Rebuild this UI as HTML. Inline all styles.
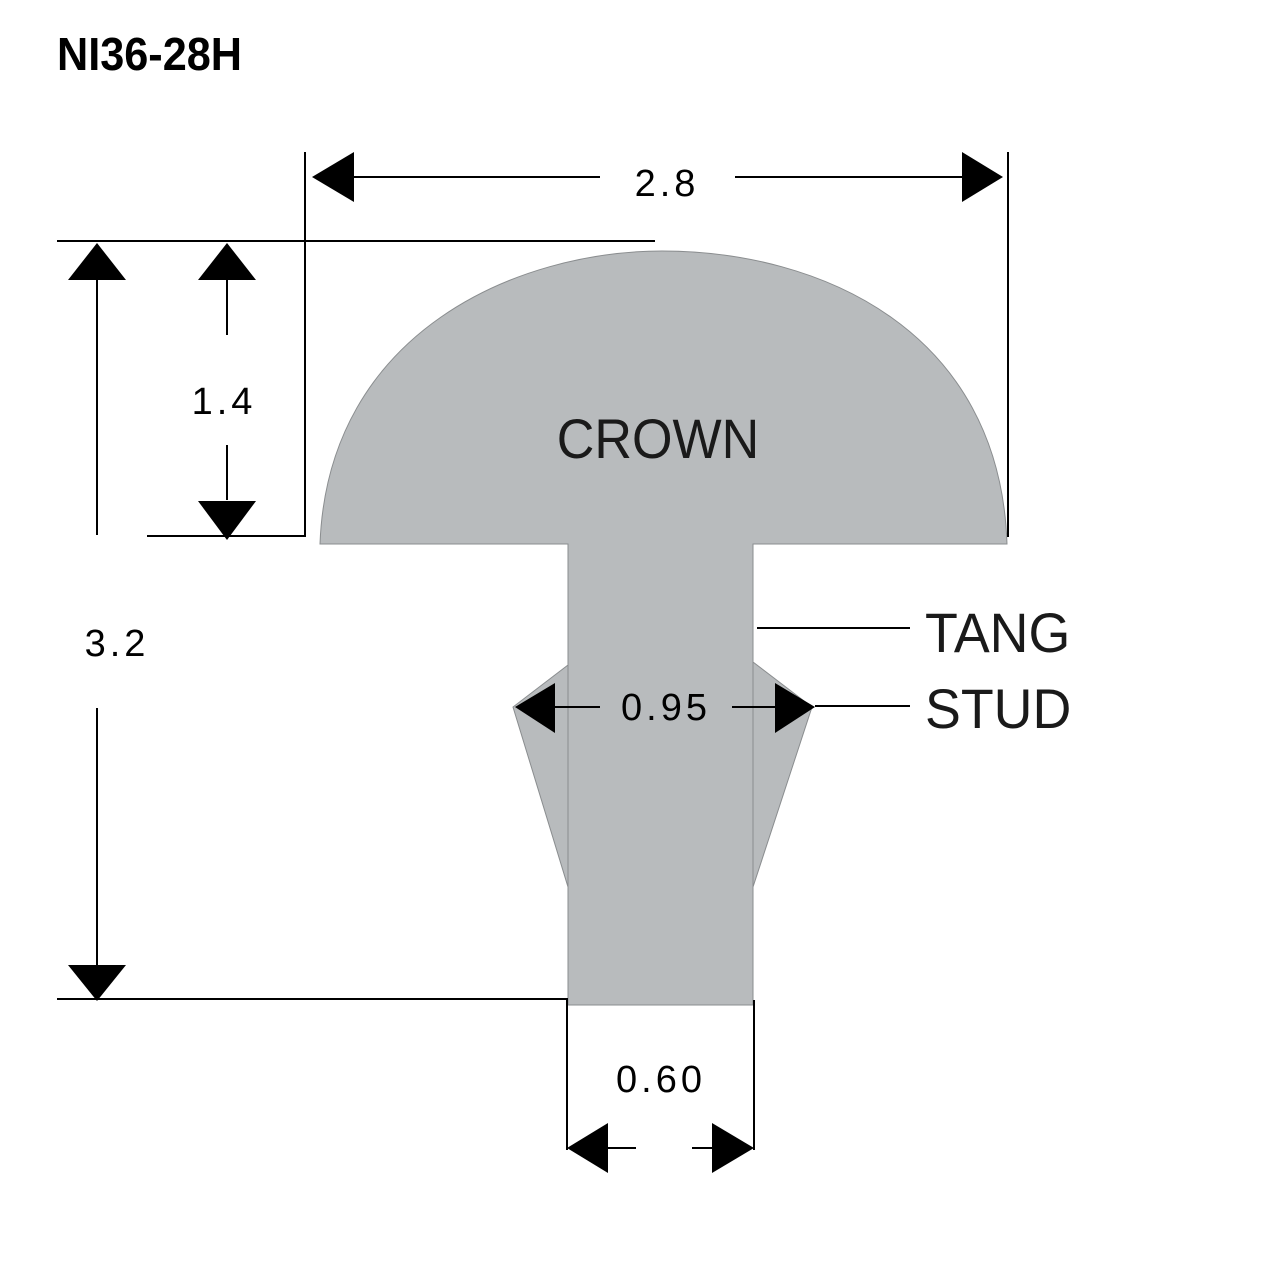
<!DOCTYPE html>
<html><head><style>html,body{margin:0;padding:0;background:#fff;}svg{display:block}</style></head>
<body>
<svg width="1280" height="1280" viewBox="0 0 1280 1280" xmlns="http://www.w3.org/2000/svg">
<rect width="1280" height="1280" fill="#fff"/>
<text x="57" y="70" font-family="Liberation Sans, sans-serif" font-weight="bold" font-size="46" transform="translate(57 0) scale(0.94 1) translate(-57 0)">NI36-28H</text>
<path d="M320,544 C328,330 520,251 662,251 C820,251 1000,330 1007,544 L753,544 L753,662 L812,707 L753,887 L753,1005 L568,1005 L568,887 L513,707 L568,665 L568,544 Z" fill="#b8bbbd" stroke="#8a8d8f" stroke-width="1"/>
<line x1="568" y1="665" x2="568" y2="887" stroke="#8a8d8f"/>
<line x1="753" y1="662" x2="753" y2="887" stroke="#8a8d8f"/>
<g stroke="#000" stroke-width="2" fill="none">
<line x1="305" y1="152" x2="305" y2="537"/>
<line x1="1008" y1="152" x2="1008" y2="537"/>
<line x1="57" y1="241" x2="655" y2="241"/>
<line x1="147" y1="536" x2="305" y2="536"/>
<line x1="354" y1="177" x2="600" y2="177"/>
<line x1="735" y1="177" x2="962" y2="177"/>
<line x1="227" y1="280" x2="227" y2="335"/>
<line x1="227" y1="445" x2="227" y2="500"/>
<line x1="97" y1="280" x2="97" y2="535"/>
<line x1="97" y1="708" x2="97" y2="965"/>
<line x1="57" y1="999" x2="568" y2="999"/>
<line x1="567" y1="1000" x2="567" y2="1150"/>
<line x1="754" y1="1000" x2="754" y2="1150"/>
<line x1="608" y1="1148" x2="636" y2="1148"/>
<line x1="692" y1="1148" x2="712" y2="1148"/>
<line x1="555" y1="707" x2="600" y2="707"/>
<line x1="732" y1="707" x2="775" y2="707"/>
<line x1="815" y1="706" x2="910" y2="706"/>
<line x1="757" y1="628" x2="910" y2="628"/>
</g>
<g fill="#000">
<polygon points="312,177 354,152 354,202"/>
<polygon points="1003,177 962,152 962,202"/>
<polygon points="227,243 198,280 256,280"/>
<polygon points="227,540 198,501 256,501"/>
<polygon points="97,243 68,280 126,280"/>
<polygon points="97,1001 68,965 126,965"/>
<polygon points="567,1148 608,1123 608,1173"/>
<polygon points="754,1148 712,1123 712,1173"/>
<polygon points="515,707 555,683 555,733"/>
<polygon points="815,707 775,683 775,733"/>
</g>
<g font-family="Liberation Sans, sans-serif" font-size="38" text-anchor="middle" letter-spacing="4">
<text x="667" y="196">2.8</text>
<text x="224" y="414">1.4</text>
<text x="117" y="656">3.2</text>
<text x="666" y="720">0.95</text>
<text x="661" y="1092">0.60</text>
</g>
<g font-family="Liberation Sans, sans-serif" font-size="56" fill="#1a1a1a">
<text x="658" y="458" text-anchor="middle" transform="translate(658 0) scale(0.93 1) translate(-658 0)">CROWN</text>
<text x="925" y="652" transform="translate(925 0) scale(0.96 1) translate(-925 0)">TANG</text>
<text x="925" y="728" transform="translate(925 0) scale(0.96 1) translate(-925 0)">STUD</text>
</g>
</svg>
</body></html>
